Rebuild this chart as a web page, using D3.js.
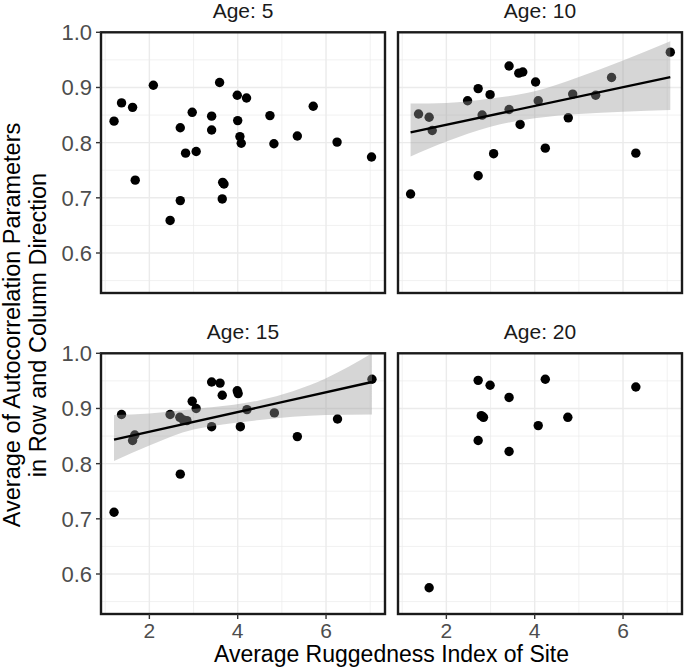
<!DOCTYPE html>
<html>
<head>
<meta charset="utf-8">
<script src="https://cdn.jsdelivr.net/npm/d3@7"></script>
<style>
  html, body { margin: 0; padding: 0; background: #fff; }
  svg { display: block; }
  text { font-family: "Liberation Sans", Arial, Helvetica, sans-serif; }
</style>
</head>
<body>
<svg id="chart" width="685" height="667"></svg>
<script>
// ---------------- data ----------------
const panelTitles = ["Age: 5", "Age: 10", "Age: 15", "Age: 20"];
const xTicks = [2, 4, 6];
const xMinorTicks = [1, 3, 5, 7];
const yTicks = [0.6, 0.7, 0.8, 0.9, 1.0];
const yMinorTicks = [0.55, 0.65, 0.75, 0.85, 0.95];
const xTitle = "Average Ruggedness Index of Site";
const yTitleLines = ["Average of Autocorrelation Parameters", "in Row and Column Direction"];

// Age 5
const age5X = [1.20, 1.37, 1.62, 1.68, 2.09, 2.47, 2.70, 2.70, 2.82, 2.97, 3.06, 3.41, 3.41, 3.59, 3.66, 3.69, 3.65, 3.99, 4.20, 4.00, 4.05, 4.08, 4.73, 4.82, 5.35, 5.71, 6.25, 7.03];
const age5Y = [0.839, 0.872, 0.864, 0.732, 0.904, 0.659, 0.827, 0.695, 0.781, 0.855, 0.784, 0.848, 0.823, 0.909, 0.728, 0.725, 0.698, 0.886, 0.881, 0.840, 0.811, 0.799, 0.849, 0.798, 0.812, 0.866, 0.801, 0.774];
// Age 10
const age10X = [1.19, 1.37, 1.61, 1.68, 2.48, 2.72, 2.72, 2.81, 2.99, 3.07, 3.42, 3.42, 3.64, 3.73, 3.67, 4.02, 4.08, 4.24, 4.76, 4.86, 5.38, 5.74, 6.29, 7.07];
const age10Y = [0.707, 0.852, 0.846, 0.822, 0.876, 0.898, 0.740, 0.850, 0.887, 0.780, 0.939, 0.860, 0.926, 0.928, 0.833, 0.910, 0.876, 0.790, 0.845, 0.888, 0.886, 0.918, 0.781, 0.964];
// Age 15
const age15X = [1.20, 1.37, 1.62, 1.67, 2.47, 2.69, 2.70, 2.77, 2.85, 2.97, 3.06, 3.41, 3.41, 3.60, 3.65, 3.99, 4.01, 4.06, 4.21, 4.83, 5.35, 6.26, 7.04];
const age15Y = [0.712, 0.889, 0.842, 0.852, 0.889, 0.884, 0.781, 0.879, 0.878, 0.913, 0.900, 0.948, 0.867, 0.946, 0.924, 0.932, 0.927, 0.867, 0.898, 0.892, 0.849, 0.881, 0.953];
// Age 20
const age20X = [1.61, 2.72, 2.99, 2.72, 2.79, 2.84, 3.42, 3.42, 4.08, 4.24, 4.75, 6.29];
const age20Y = [0.575, 0.951, 0.942, 0.842, 0.887, 0.884, 0.920, 0.822, 0.869, 0.953, 0.884, 0.939];

// linear fits and confidence bands
const fit10X = [1.19, 7.07];
const fit10Y = [0.8187, 0.9187];
const band10X = [1.19, 2, 3, 4, 5, 6, 7.07];
const band10Lo = [0.775, 0.802, 0.829, 0.844, 0.852, 0.856, 0.859];
const band10Hi = [0.871, 0.872, 0.880, 0.893, 0.919, 0.949, 0.984];

const fit15X = [1.20, 7.04];
const fit15Y = [0.8435, 0.948];
const band15X = [1.20, 2, 3, 3.41, 4.5, 6, 7.04];
const band15Lo = [0.805, 0.833, 0.862, 0.868, 0.879, 0.888, 0.889];
const band15Hi = [0.888, 0.891, 0.899, 0.902, 0.915, 0.955, 1.0];

// ---------------- layout ----------------
const svg = d3.select("#chart");
const colLeft = [101, 398];
const panelW = 284;
const rowTop = [32.3, 353.3];
const panelH = 260.7;
const xDomain = [0.905, 7.335];
const yDomain = [0.5275, 1.0];

const panels = [
  {title: panelTitles[0], xs: age5X, ys: age5Y, col: 0, row: 0},
  {title: panelTitles[1], xs: age10X, ys: age10Y, col: 1, row: 0,
   fit: {x: fit10X, y: fit10Y}, band: {x: band10X, lo: band10Lo, hi: band10Hi}},
  {title: panelTitles[2], xs: age15X, ys: age15Y, col: 0, row: 1,
   fit: {x: fit15X, y: fit15Y}, band: {x: band15X, lo: band15Lo, hi: band15Hi}},
  {title: panelTitles[3], xs: age20X, ys: age20Y, col: 1, row: 1}
];

const defs = svg.append("defs");

panels.forEach((p, i) => {
  const x0 = colLeft[p.col], y0 = rowTop[p.row];
  const x = d3.scaleLinear().domain(xDomain).range([x0, x0 + panelW]);
  const y = d3.scaleLinear().domain(yDomain).range([y0 + panelH, y0]);

  defs.append("clipPath").attr("id", "clip" + i)
    .append("rect").attr("x", x0).attr("y", y0).attr("width", panelW).attr("height", panelH);

  const g = svg.append("g");
  const inner = g.append("g").attr("clip-path", `url(#clip${i})`);

  // minor grid
  inner.selectAll(".gxm").data(xMinorTicks).enter().append("line")
    .attr("x1", d => x(d)).attr("x2", d => x(d)).attr("y1", y0).attr("y2", y0 + panelH)
    .attr("stroke", "#ebebeb").attr("stroke-width", 0.7);
  inner.selectAll(".gym").data(yMinorTicks).enter().append("line")
    .attr("y1", d => y(d)).attr("y2", d => y(d)).attr("x1", x0).attr("x2", x0 + panelW)
    .attr("stroke", "#ebebeb").attr("stroke-width", 0.7);
  // major grid
  inner.selectAll(".gx").data(xTicks).enter().append("line")
    .attr("x1", d => x(d)).attr("x2", d => x(d)).attr("y1", y0).attr("y2", y0 + panelH)
    .attr("stroke", "#ebebeb").attr("stroke-width", 1.4);
  inner.selectAll(".gy").data(yTicks).enter().append("line")
    .attr("y1", d => y(d)).attr("y2", d => y(d)).attr("x1", x0).attr("x2", x0 + panelW)
    .attr("stroke", "#ebebeb").attr("stroke-width", 1.4);

  // points
  const pts = p.xs.map((v, k) => [v, p.ys[k]]);
  inner.selectAll(".pt").data(pts).enter().append("circle")
    .attr("cx", d => x(d[0])).attr("cy", d => y(d[1])).attr("r", 4.7)
    .attr("fill", "#000");

  // band + fit
  if (p.band) {
    const bd = p.band.x.map((v, k) => ({x: v, lo: p.band.lo[k], hi: p.band.hi[k]}));
    const area = d3.area().x(d => x(d.x)).y0(d => y(d.lo)).y1(d => y(d.hi)).curve(d3.curveMonotoneX);
    inner.append("path").datum(bd).attr("d", area).attr("fill", "#999999").attr("fill-opacity", 0.4);
    const fd = p.fit.x.map((v, k) => [v, p.fit.y[k]]);
    inner.append("path").datum(fd)
      .attr("d", d3.line().x(d => x(d[0])).y(d => y(d[1])))
      .attr("fill", "none").attr("stroke", "#000").attr("stroke-width", 2.4);
  }

  // border
  g.append("rect").attr("x", x0).attr("y", y0).attr("width", panelW).attr("height", panelH)
    .attr("fill", "none").attr("stroke", "#1a1a1a").attr("stroke-width", 2.4);

  // strip title
  g.append("text").attr("x", x0 + panelW / 2).attr("y", y0 - 14.5)
    .attr("text-anchor", "middle").attr("font-size", 21).attr("fill", "#1a1a1a")
    .text(p.title);

  // y axis on left column
  if (p.col === 0) {
    const ya = g.append("g");
    yTicks.forEach(t => {
      ya.append("line").attr("x1", x0 - 5).attr("x2", x0).attr("y1", y(t)).attr("y2", y(t))
        .attr("stroke", "#333").attr("stroke-width", 1.4);
      ya.append("text").attr("x", x0 - 9).attr("y", y(t)).attr("dy", "0.36em")
        .attr("text-anchor", "end").attr("font-size", 22).attr("fill", "#4d4d4d")
        .text(d3.format(".1f")(t));
    });
  }
  // x axis on bottom row
  if (p.row === 1) {
    const xa = g.append("g");
    xTicks.forEach(t => {
      xa.append("line").attr("x1", x(t)).attr("x2", x(t)).attr("y1", y0 + panelH).attr("y2", y0 + panelH + 5)
        .attr("stroke", "#333").attr("stroke-width", 1.4);
      xa.append("text").attr("x", x(t)).attr("y", y0 + panelH + 23.5)
        .attr("text-anchor", "middle").attr("font-size", 21).attr("fill", "#4d4d4d")
        .text(d3.format("d")(t));
    });
  }
});

// axis titles
svg.append("text").attr("x", (colLeft[0] + colLeft[1] + panelW) / 2).attr("y", 661.5)
  .attr("text-anchor", "middle").attr("font-size", 23).attr("fill", "#000")
  .text(xTitle);

const yMid = 325;
const yBase = [20, 46];
yTitleLines.forEach((line, k) => {
  svg.append("text")
    .attr("transform", `translate(${yBase[k]},${yMid}) rotate(-90)`)
    .attr("text-anchor", "middle").attr("font-size", 23.5).attr("fill", "#000")
    .text(line);
});
</script>
</body>
</html>
